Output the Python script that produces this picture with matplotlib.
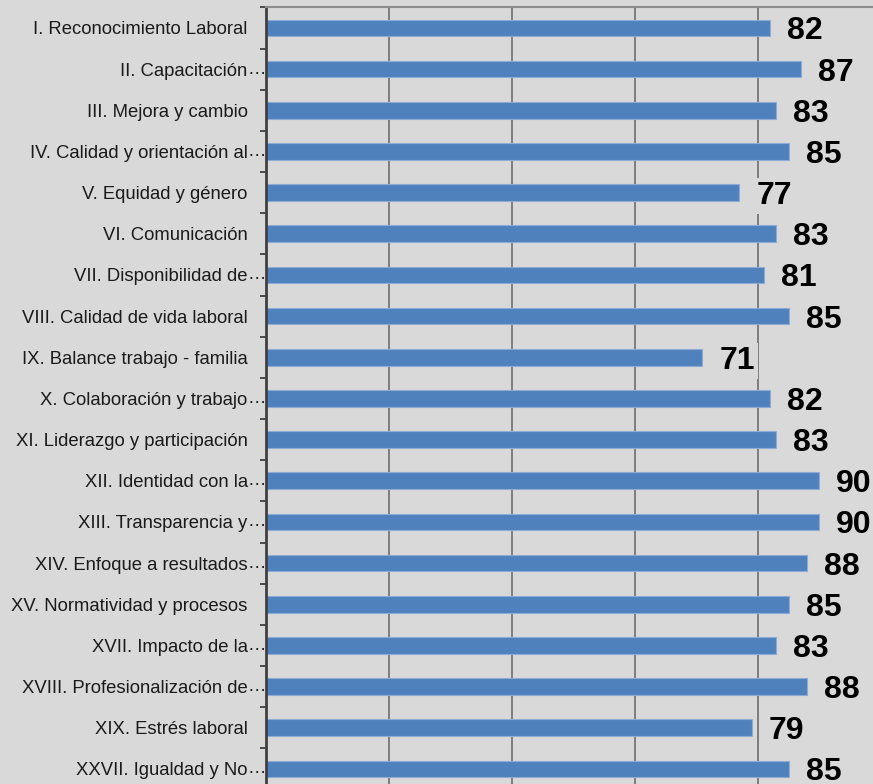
import numpy as np
import matplotlib.pyplot as plt

# factores del clima laboral (texto visible en el eje)
factores = [
    "I. Reconocimiento Laboral",
    "II. Capacitación",
    "III. Mejora y cambio",
    "IV. Calidad y orientación al",
    "V. Equidad y género",
    "VI. Comunicación",
    "VII. Disponibilidad de",
    "VIII. Calidad de vida laboral",
    "IX. Balance trabajo - familia",
    "X. Colaboración y trabajo",
    "XI. Liderazgo y participación",
    "XII. Identidad con la",
    "XIII. Transparencia y",
    "XIV. Enfoque a resultados",
    "XV. Normatividad y procesos",
    "XVII. Impacto de la",
    "XVIII. Profesionalización de",
    "XIX. Estrés laboral",
    "XXVII. Igualdad y No",
]
# los nombres largos se cortan con puntos suspensivos
cortados = [False, True, False, True, False, False, True, False, False, True,
            False, True, True, True, False, True, True, False, True]
puntajes = [82, 87, 83, 85, 77, 83, 81, 85, 71, 82, 83, 90, 90, 88, 85, 83, 88, 79, 85]

fondo = "#d9d9d9"
azul = "#4f81bd"

plt.rcParams['font.family'] = ['Liberation Sans', 'DejaVu Sans']

fig = plt.figure(figsize=(8.73, 7.84), dpi=100, facecolor=fondo)
ax = fig.add_axes([0.3044, -0.0071, 0.7045, 0.9977])
ax.set_facecolor(fondo)

y = np.arange(len(factores))
ax.barh(y, puntajes, height=0.405, color=azul, edgecolor="#8eaad6", linewidth=0.8, zorder=2)

ax.set_xlim(0, 100)
ax.set_ylim(len(factores) - 0.5, -0.5)

# cuadricula vertical cada 20
ax.set_xticks([20, 40, 60, 80])
ax.xaxis.grid(True, color="#6e6e6e", linewidth=1.2)
ax.tick_params(axis='x', length=0, labelbottom=False)

# etiquetas de categoria y marcas entre categorias
ax.set_yticks(y)
ax.set_yticklabels(factores)
ax.set_yticks(np.arange(len(factores) + 1) - 0.5, minor=True)
ax.tick_params(axis='y', which='major', length=0, pad=13, labelsize=13.3, labelcolor="#1a1a1a")
ax.tick_params(axis='y', which='minor', length=4.5, width=1.3, color="#404040")

for i, c in enumerate(cortados):
    if c:
        ax.annotate("…", xy=(0, i), xycoords=('axes fraction', 'data'),
                    xytext=(0, 0), textcoords='offset pixels',
                    ha='right', va='center', fontsize=13.3, color="#1a1a1a")

for s in ['right', 'bottom']:
    ax.spines[s].set_visible(False)
ax.spines['left'].set_color("#404040")
ax.spines['left'].set_linewidth(2)
ax.spines['top'].set_color("#8c8c8c")
ax.spines['top'].set_linewidth(1.5)

# valores al final de cada barra
for i, v in enumerate(puntajes):
    ax.annotate(str(v), xy=(v, i), xytext=(17, 0), textcoords='offset pixels',
                ha='left', va='center_baseline', fontsize=23, fontweight='bold',
                color="black", zorder=5,
                bbox=dict(boxstyle='square,pad=0.1', fc=fondo, ec='none'))

fig.savefig("out.png", dpi=100, facecolor=fondo)
